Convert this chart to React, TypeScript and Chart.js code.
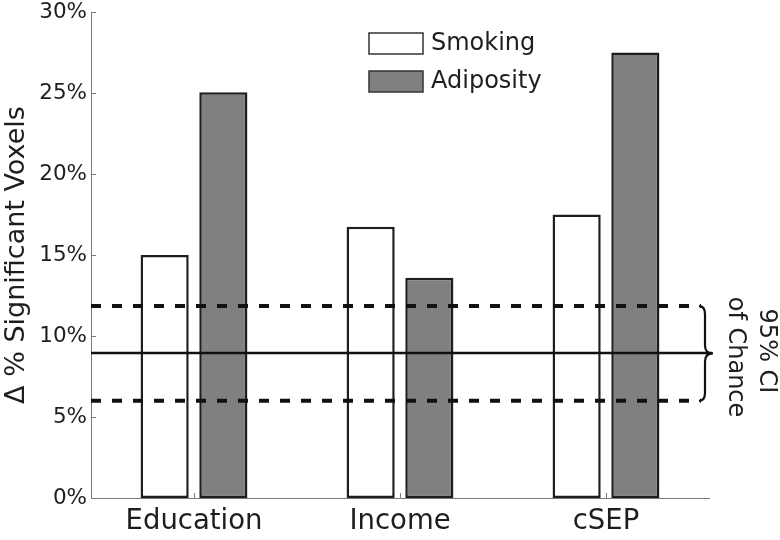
import React, { useEffect, useRef } from "react";
import { Chart, registerables } from "chart.js";

Chart.register(...registerables);

const categories = ["Education", "Income", "cSEP"];
const smoking = [15.0, 16.75, 17.5];
const adiposity = [25.05, 13.6, 27.5];
const seriesNames = ["Smoking", "Adiposity"];
const chanceMean = 8.95;
const chanceLower = 6.0;
const chanceUpper = 11.85;
const yTicks = [0, 5, 10, 15, 20, 25, 30];
const yTitle = "Δ % Significant Voxels";
const ciLines = ["95% CI", "of Chance"];

const FONT = "'DejaVu Sans', Verdana, sans-serif";
const DARK = "#1e1e1e";
const AXIS = "#7a7a7a";
const GRAYFILL = "#808080";

const overlayPlugin = {
  id: "overlay",
  afterDatasetsDraw(chart: any) {
    const ctx = chart.ctx;
    const { left, right, top, bottom } = chart.chartArea;
    const y = chart.scales.y;
    const x = chart.scales.x;
    ctx.save();
    // inward ticks
    ctx.strokeStyle = AXIS;
    ctx.lineWidth = 1;
    yTicks.forEach((v) => {
      const py = Math.round(y.getPixelForValue(v)) + 0.5;
      ctx.beginPath();
      ctx.moveTo(left, py);
      ctx.lineTo(left + 5, py);
      ctx.stroke();
    });
    categories.forEach((_, i) => {
      const px = Math.round(x.getPixelForValue(i)) + 0.5;
      ctx.beginPath();
      ctx.moveTo(px, bottom);
      ctx.lineTo(px, bottom - 5);
      ctx.stroke();
    });
    // chance lines
    const yMean = y.getPixelForValue(chanceMean);
    const yLo = y.getPixelForValue(chanceLower);
    const yHi = y.getPixelForValue(chanceUpper);
    ctx.strokeStyle = "#111";
    ctx.lineWidth = 2.5;
    ctx.setLineDash([]);
    ctx.beginPath();
    ctx.moveTo(left, yMean);
    ctx.lineTo(right + 3, yMean);
    ctx.stroke();
    ctx.lineWidth = 4;
    ctx.setLineDash([10, 11]);
    [yLo, yHi].forEach((py) => {
      ctx.beginPath();
      ctx.moveTo(left, py);
      ctx.lineTo(right - 8, py);
      ctx.stroke();
    });
    ctx.setLineDash([]);
    // brace
    const bx = right - 8;
    const tip = right + 4;
    const mid = (yHi + yLo) / 2;
    ctx.lineWidth = 2.2;
    ctx.beginPath();
    ctx.moveTo(bx - 2, yHi);
    ctx.quadraticCurveTo(bx + 4, yHi, bx + 4, yHi + 8);
    ctx.lineTo(bx + 4, mid - 8);
    ctx.quadraticCurveTo(bx + 4, mid, tip, mid);
    ctx.quadraticCurveTo(bx + 4, mid, bx + 4, mid + 8);
    ctx.lineTo(bx + 4, yLo - 8);
    ctx.quadraticCurveTo(bx + 4, yLo, bx - 2, yLo);
    ctx.stroke();
    // rotated CI text
    ctx.fillStyle = DARK;
    ctx.font = `24px ${FONT}`;
    ctx.textAlign = "center";
    ctx.textBaseline = "middle";
    ctx.save();
    ctx.translate(766, 351);
    ctx.rotate(Math.PI / 2);
    ctx.fillText(ciLines[0], 0, 0);
    ctx.restore();
    ctx.save();
    ctx.translate(735, 357);
    ctx.rotate(Math.PI / 2);
    ctx.fillText(ciLines[1], 0, 0);
    ctx.restore();
    // y title
    ctx.font = `27px ${FONT}`;
    ctx.save();
    ctx.translate(17, (top + bottom) / 2);
    ctx.rotate(-Math.PI / 2);
    ctx.fillText(yTitle, 0, 0);
    ctx.restore();
    // legend
    const fills = ["#ffffff", GRAYFILL];
    const boxY = [33, 71];
    ctx.font = `24px ${FONT}`;
    ctx.textAlign = "left";
    seriesNames.forEach((name, i) => {
      ctx.fillStyle = fills[i];
      ctx.fillRect(369, boxY[i], 54, 21);
      ctx.strokeStyle = "#333";
      ctx.lineWidth = 1.5;
      ctx.strokeRect(369, boxY[i], 54, 21);
      ctx.fillStyle = DARK;
      ctx.fillText(name, 431, boxY[i] + 11);
    });
    ctx.restore();
  },
};

export default function App() {
  const ref = useRef<HTMLCanvasElement | null>(null);
  useEffect(() => {
    if (!ref.current) return;
    const chart = new Chart(ref.current, {
      type: "bar",
      data: {
        labels: categories,
        datasets: [
          {
            label: seriesNames[0],
            data: smoking,
            backgroundColor: "#ffffff",
            borderColor: DARK,
            borderWidth: 2.5,
            borderSkipped: false,
            categoryPercentage: 0.57,
            barPercentage: 0.82,
          },
          {
            label: seriesNames[1],
            data: adiposity,
            backgroundColor: GRAYFILL,
            borderColor: DARK,
            borderWidth: 2.5,
            borderSkipped: false,
            categoryPercentage: 0.57,
            barPercentage: 0.82,
          },
        ],
      },
      options: {
        responsive: false,
        animation: false,
        devicePixelRatio: 1,
        layout: { padding: { top: 0, right: 71, left: 0, bottom: 0 } },
        plugins: { legend: { display: false }, tooltip: { enabled: false } },
        scales: {
          x: {
            grid: { display: false, drawTicks: false },
            border: { display: true, color: AXIS, width: 1 },
            ticks: { color: DARK, font: { family: FONT, size: 27.5 }, padding: 7 },
            afterFit: (s: any) => {
              s.height = 42;
            },
          },
          y: {
            min: 0,
            max: 30,
            grid: { display: false, drawTicks: false },
            border: { display: true, color: AXIS, width: 1 },
            ticks: {
              stepSize: 5,
              color: DARK,
              font: { family: FONT, size: 21.5 },
              padding: 4,
              callback: (v: any) => `${v}%`,
            },
            afterFit: (s: any) => {
              s.width = 91;
              s.paddingTop = 12;
            },
          },
        },
      },
      plugins: [overlayPlugin],
    });
    return () => chart.destroy();
  }, []);
  return (
    <div style={{ position: "absolute", left: 0, top: 0, width: 780, height: 540, background: "#fff" }}>
      <canvas ref={ref} width={780} height={540} />
    </div>
  );
}
